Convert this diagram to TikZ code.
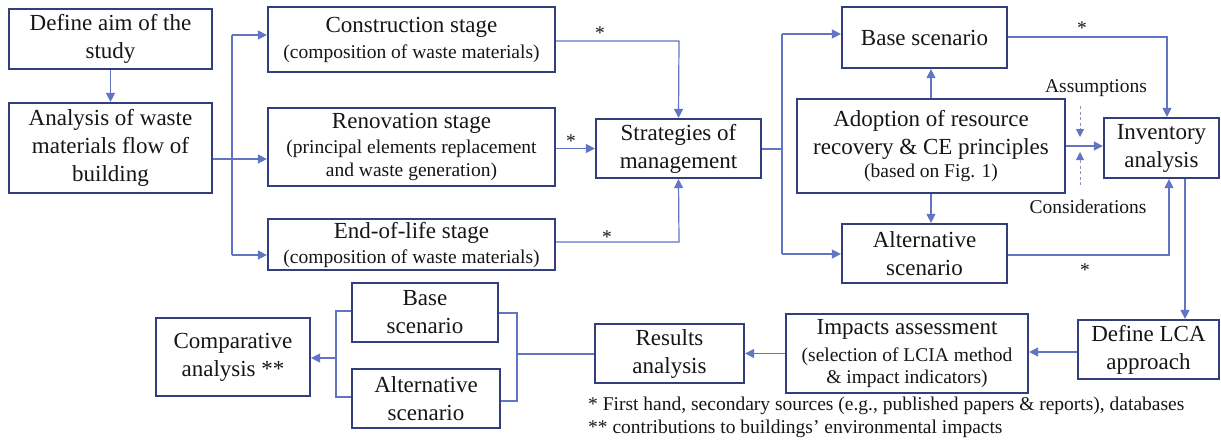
\documentclass[tikz,border=0pt]{standalone}
\usepackage{fontspec}
\setmainfont{LiberationSerif}[Extension=.ttf, UprightFont=*-Regular, BoldFont=*-Bold, ItalicFont=*-Italic, BoldItalicFont=*-BoldItalic]
\usetikzlibrary{arrows.meta}
\definecolor{boxcol}{RGB}{50,62,125}
\definecolor{linkcol}{RGB}{98,116,196}
\definecolor{dashcol}{RGB}{140,150,185}
\definecolor{txtcol}{RGB}{22,22,22}
\newcommand\mainf{\fontsize{23}{28}\selectfont}
\newcommand\subf{\fontsize{19.5}{23}\selectfont}

\begin{document}
\begin{tikzpicture}[x=1pt,y=-1pt,
  box/.style={draw=boxcol, line width=2.2pt, fill=white, inner sep=0pt,
    align=center, text=txtcol, font=\mainf},
  link/.style={draw=linkcol, line width=1.2pt},
  arr/.style={link, -{Triangle[length=9pt,width=9pt]}},
  dasharr/.style={draw=dashcol, line width=0.9pt, dash pattern=on 3pt off 2.5pt,
    -{Triangle[length=8pt,width=8pt,fill=linkcol,color=linkcol]}},
  note/.style={font=\subf, text=txtcol, inner sep=0pt}]
\useasboundingbox (0,0) rectangle (1221,440);

% boxes
\node[box, minimum width=203pt, minimum height=60pt] (aim) at (110.5,39) {Define aim of the\\study};
\node[box, minimum width=203pt, minimum height=90pt] (flow) at (110.5,148) {Analysis of waste\\materials flow of\\building};
\node[box, minimum width=287pt, minimum height=65pt] (constr) at (411.5,39.5)
  {Construction stage\\[-2pt]{\subf (composition of waste materials)}};
\node[box, minimum width=287pt, minimum height=78pt] (renov) at (411.5,147)
  {Renovation stage\\[-3pt]{\subf (principal elements replacement}\\[-5pt]{\subf and waste generation)}};
\node[box, minimum width=287pt, minimum height=51pt] (eol) at (411.5,244.5)
  {End-of-life stage\\[-3pt]{\subf (composition of waste materials)}};
\node[box, minimum width=165pt, minimum height=59pt] (strat) at (678.5,148.5) {Strategies of\\management};
\node[box, minimum width=165pt, minimum height=61pt] (base) at (924.5,37.5) {Base scenario};
\node[box, minimum width=268pt, minimum height=94pt] (adopt) at (931,146)
  {Adoption of resource\\recovery \& CE principles\\[-5pt]{\subf (based on Fig. 1)}};
\node[box, minimum width=165pt, minimum height=59pt] (alt) at (924.5,253.5) {Alternative\\scenario};
\node[box, minimum width=115pt, minimum height=60pt] (inv) at (1161.5,148) {Inventory\\analysis};
\node[box, minimum width=141pt, minimum height=59pt] (lca) at (1148.5,349.5) {Define LCA\\approach};
\node[box, minimum width=242pt, minimum height=79pt] (impacts) at (907,353.5)
  {Impacts assessment\\[-1pt]{\subf (selection of LCIA method}\\[-6pt]{\subf \& impact indicators)}};
\node[box, minimum width=149pt, minimum height=59pt] (results) at (669.5,353.5) {Results\\analysis};
\node[box, minimum width=146pt, minimum height=59pt] (base2) at (425,312.5) {Base\\scenario};
\node[box, minimum width=148pt, minimum height=59pt] (alt2) at (426,398.5) {Alternative\\scenario};
\node[box, minimum width=154pt, minimum height=78pt] (comp) at (233,357) {Comparative\\analysis **};

% study definition to material flow
\draw[arr] (aim.south) -- (flow.north);

% split to the three life-cycle stages
\coordinate (sa) at (232,35);
\coordinate (sb) at (232,159);
\coordinate (sc) at (232,255);
\draw[link] (flow.east |- sb) -- (sb);
\draw[link] (sa) -- (sc);
\draw[arr] (sa) -- (constr.west |- sa);
\draw[arr] (sb) -- (renov.west |- sb);
\draw[arr] (sc) -- (eol.west |- sc);

% stages to strategies
\coordinate (ca) at (679,41);
\coordinate (ea) at (679,242);
\draw[arr] (constr.east |- ca) -- (ca) -- (strat.north);
\draw[arr] (strat.west -| renov.east) -- (strat.west);
\draw[arr] (eol.east |- ea) -- (ea) -- (strat.south);
\node[note] (s1) at (600,33) {*};
\node[note] (s2) at (571,141) {*};
\node[note] (s3) at (607,237) {*};

% strategies to the two scenarios
\coordinate (ta) at (782,34);
\coordinate (tb) at (782,149);
\coordinate (tc) at (782,254);
\draw[link] (strat.east |- tb) -- (tb);
\draw[link] (ta) -- (tc);
\draw[arr] (ta) -- (base.west |- ta);
\draw[arr] (tc) -- (alt.west |- tc);

% resource recovery principles
\draw[arr] (adopt.north) -- (adopt.north |- base.south);
\draw[arr] (adopt.south) -- (adopt.south |- alt.north);
\draw[arr] (adopt.east) -- (adopt.east -| inv.west);

% assumptions and considerations
\coordinate (da1) at (1080,106);
\coordinate (da2) at (1080,137);
\coordinate (dc1) at (1080,185);
\coordinate (dc2) at (1080,152);
\draw[dasharr] (da1) -- (da2);
\draw[dasharr] (dc1) -- (dc2);
\node[note] (assume) at (1096,88) {Assumptions};
\node[note] (consid) at (1088,207) {Considerations};

% scenarios to inventory
\coordinate (bi) at (1167,37);
\coordinate (ai) at (1169,255);
\draw[arr] (base.east |- bi) -- (bi) -- (bi |- inv.north);
\draw[arr] (alt.east |- ai) -- (ai) -- (ai |- inv.south);
\node[note] (s4) at (1082,28) {*};
\node[note] (s5) at (1085,270) {*};

% LCA chain
\coordinate (il) at (1185,0);
\coordinate (li) at (0,352);
\draw[arr] (inv.south -| il) -- (lca.north -| il);
\draw[arr] (lca.west |- li) -- (impacts.east |- li);
\draw[arr] (impacts.west |- results.east) -- (results.east);

% results to the two scenarios and the comparison
\coordinate (rb1) at (517,313);
\coordinate (rb2) at (517,401);
\coordinate (rb) at (517,354);
\draw[link] (base2.east |- rb1) -- (rb1) -- (rb2) -- (alt2.east |- rb2);
\draw[link] (rb) -- (results.west |- rb);
\coordinate (lb1) at (336,311);
\coordinate (lb2) at (336,397);
\coordinate (lb) at (336,358);
\draw[link] (base2.west |- lb1) -- (lb1) -- (lb2) -- (alt2.west |- lb2);
\draw[arr] (lb) -- (comp.east |- lb);

% footnotes
\node[note, anchor=west] (fn1) at (588,406) {* First hand, secondary sources (e.g., published papers \& reports), databases};
\node[note, anchor=west] (fn2) at (588,429) {** contributions to buildings’ environmental impacts};
\end{tikzpicture}
\end{document}
